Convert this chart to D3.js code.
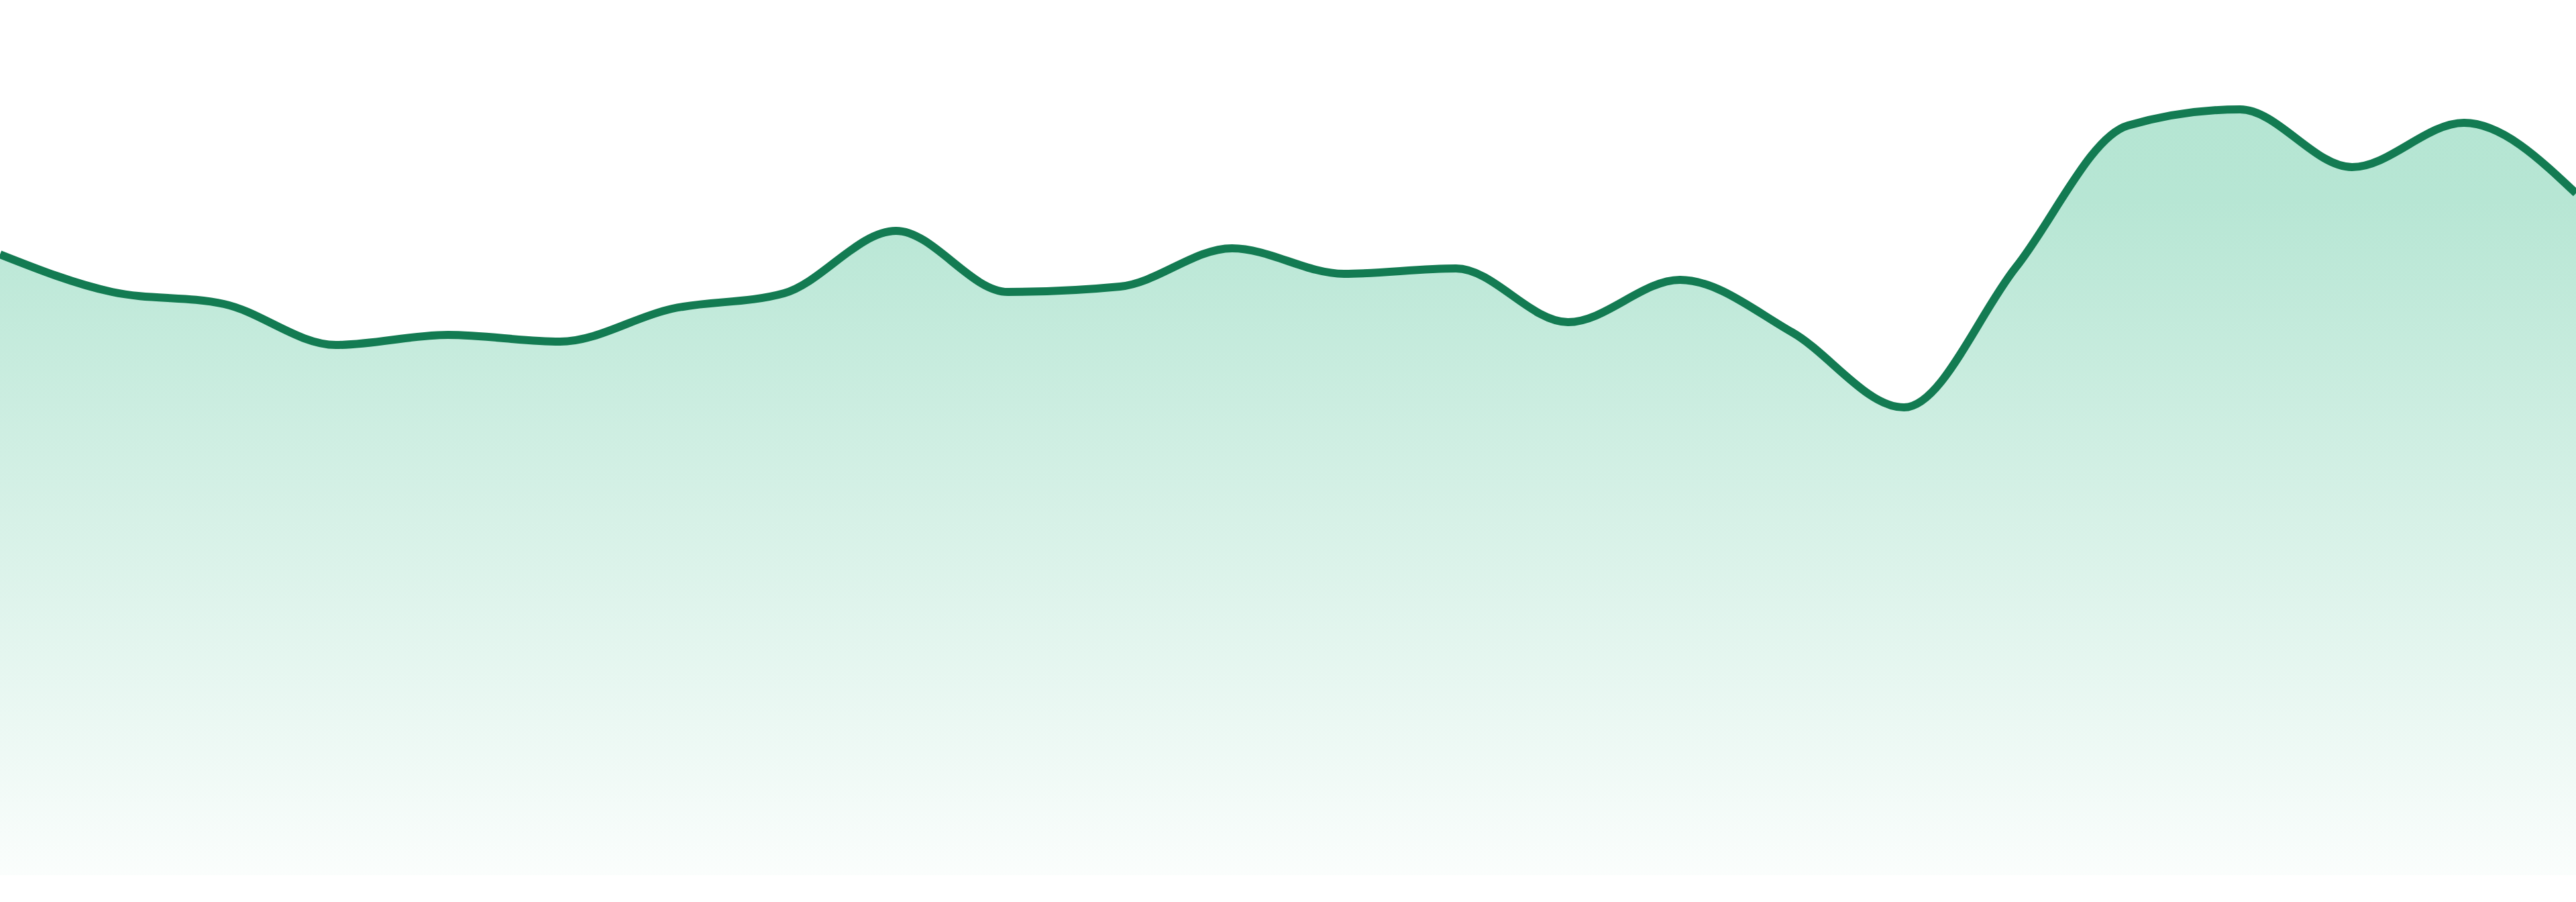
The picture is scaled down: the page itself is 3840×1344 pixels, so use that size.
<!DOCTYPE html>
<html>
<head>
<meta charset="utf-8">
<script src="https://cdn.jsdelivr.net/npm/d3@7"></script>
<style>
    body { margin: 0; background: #fff; }
    svg { display: block; }
</style>
</head>
<body>
<script>
// one value per step along the x axis
var steps = ["1", "2", "3", "4", "5", "6", "7", "8", "9", "10", "11", "12",
    "13", "14", "15", "16", "17", "18", "19", "20", "21", "22", "23", "24"];

var values = [92.5, 86.9, 85.1, 79.0, 80.5, 79.5, 84.4, 86.7, 96.0, 86.9, 87.7, 93.4,
    89.6, 90.4, 82.4, 88.7, 80.9, 69.7, 90.6, 111.7, 114.1, 105.5, 112.1, 101.6];

var width = 3840,
    height = 1344;

var data = steps.map(function (s, i) {
    return {step: s, value: values[i]};
});

var xScale = d3.scalePoint()
    .domain(steps)
    .range([0, width]);

var yScale = d3.scaleLinear()
    .domain([0, 130])
    .range([1304, 4]);

var svg = d3.select("body")
    .append("svg")
    .attr("width", width)
    .attr("height", height);

var grad = svg.append("defs")
    .append("linearGradient")
    .attr("id", "fillGrad")
    .attr("gradientUnits", "userSpaceOnUse")
    .attr("x1", 0).attr("x2", 0)
    .attr("y1", yScale(d3.max(values)))
    .attr("y2", yScale(0));

grad.append("stop").attr("offset", "0%").attr("stop-color", "#0fac70").attr("stop-opacity", 0.31);
grad.append("stop").attr("offset", "12%").attr("stop-color", "#0fac70").attr("stop-opacity", 0.3);
grad.append("stop").attr("offset", "100%").attr("stop-color", "#0fac70").attr("stop-opacity", 0.02);

var area = d3.area()
    .x(function (d) { return xScale(d.step); })
    .y0(yScale(0))
    .y1(function (d) { return yScale(d.value); })
    .curve(d3.curveMonotoneX);

var line = d3.line()
    .x(function (d) { return xScale(d.step); })
    .y(function (d) { return yScale(d.value); })
    .curve(d3.curveMonotoneX);

svg.append("path")
    .datum(data)
    .attr("d", area)
    .attr("fill", "url(#fillGrad)");

svg.append("path")
    .datum(data)
    .attr("d", line)
    .attr("fill", "none")
    .attr("stroke", "#137b52")
    .attr("stroke-width", 12)
    .attr("stroke-linejoin", "round");
</script>
</body>
</html>
